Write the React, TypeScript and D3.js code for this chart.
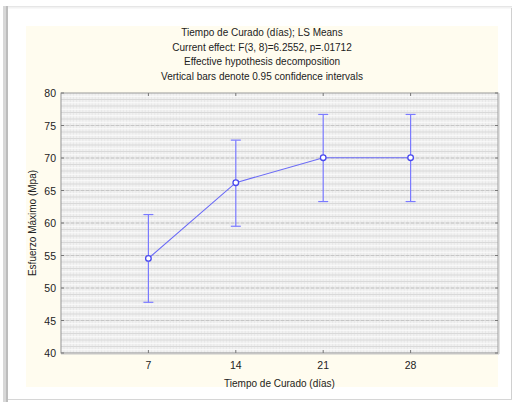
import React from "react";
import * as d3 from "d3";

const days = [7, 14, 21, 28];
const means = [54.55, 66.2, 70.05, 70.05];
const upper = [61.3, 72.75, 76.7, 76.7];
const lower = [47.8, 59.5, 63.3, 63.3];
const yTicks = [40, 45, 50, 55, 60, 65, 70, 75, 80];
const titleLines = [
  "Tiempo de Curado (días); LS Means",
  "Current effect: F(3, 8)=6.2552, p=.01712",
  "Effective hypothesis decomposition",
  "Vertical bars denote 0.95 confidence intervals",
];

const W = 513, H = 402;
const L = 61, R = 498, T = 93, B = 353;

export default function App() {
  const x = d3.scaleLinear().domain([0, 35]).range([L, R]);
  const y = d3.scaleLinear().domain([40, 80]).range([B, T]);
  const line = d3.line<number>().x((_, i) => x(days[i])).y((d) => y(d));
  const hMinor = d3.range(40, 80, 0.5);
  const vMinor = d3.range(0, 35, 0.25);
  const font = "'Liberation Sans', Arial, sans-serif";
  const blue = "#6a6af6";
  return (
    <svg width={W} height={H} style={{ position: "absolute", left: 0, top: 0, display: "block" }} fontFamily={font}>
      <rect x={0} y={0} width={W} height={H} fill="#ffffff" />
      {/* frame */}
      <rect x={3} y={6} width={3} height={396} fill="#d8d8d8" />
      <rect x={6} y={6} width={2} height={396} fill="#bdbdbd" />
      <rect x={8} y={6} width={504} height={1.5} fill="#e6e6e6" />
      <rect x={8} y={7.5} width={504} height={1} fill="#f2f2f2" />
      <line x1={511.5} y1={8} x2={511.5} y2={400} stroke="#d0d0d0" />
      <line x1={8} y1={399.5} x2={512} y2={399.5} stroke="#d6d6d6" />
      {/* cream area */}
      <rect x={26} y={26} width={472} height={361} fill="#fffcef" />
      {/* titles */}
      {titleLines.map((t, i) => (
        <text key={i} x={262} y={36 + i * 14.5} textAnchor="middle" fontSize={10} fill="#222">
          {t}
        </text>
      ))}
      {/* plot bg */}
      <rect x={L} y={T} width={R - L} height={B - T} fill="#f1f1f1" />
      {vMinor.map((v) => (
        <line key={"v" + v} x1={x(v)} x2={x(v)} y1={T} y2={B} stroke="#e6e6e6" strokeWidth={0.8} />
      ))}
      {hMinor.map((v) => (
        <line key={"h" + v} x1={L} x2={R} y1={y(v)} y2={y(v)} stroke={Math.round(v * 2) % 2 === 0 ? "#d9d9d9" : "#fbfbfb"} strokeWidth={1} />
      ))}
      {yTicks.slice(1, -1).map((v) => (
        <line key={"g" + v} x1={L} x2={R} y1={y(v)} y2={y(v)} stroke="#c6c6c6" strokeDasharray="3,2" />
      ))}
      {/* border */}
      <rect x={L} y={T} width={R - L} height={B - T} fill="none" stroke="#9a9a9a" />
      <line x1={L} x2={R + 1} y1={B + 1} y2={B + 1} stroke="#c8c8c8" />
      <line x1={R + 1} x2={R + 1} y1={T} y2={B + 1} stroke="#c8c8c8" />
      {/* ticks */}
      {days.map((d) => (
        <g key={"t" + d}>
          <line x1={x(d)} x2={x(d)} y1={B} y2={B - 3} stroke="#777" />
          <line x1={x(d)} x2={x(d)} y1={T} y2={T + 3} stroke="#777" />
          <text x={x(d)} y={369} textAnchor="middle" fontSize={10.5} fill="#222">{d}</text>
        </g>
      ))}
      {yTicks.map((v) => (
        <g key={"y" + v}>
          <line x1={L} x2={L + 3} y1={y(v)} y2={y(v)} stroke="#777" />
          <line x1={R} x2={R - 3} y1={y(v)} y2={y(v)} stroke="#777" />
          <text x={56} y={y(v) + 4} textAnchor="end" fontSize={10.5} fill="#222">{v}</text>
        </g>
      ))}
      {/* axis labels */}
      <text x={(L + R) / 2} y={387} textAnchor="middle" fontSize={10} fill="#222">Tiempo de Curado (días)</text>
      <text transform={`translate(36,${(T + B) / 2}) rotate(-90)`} textAnchor="middle" fontSize={10} fill="#222">Esfuerzo Máximo (Mpa)</text>
      {/* error bars */}
      {days.map((d, i) => (
        <g key={"e" + d} stroke="#7a7aff" strokeWidth={1.2}>
          <line x1={x(d)} x2={x(d)} y1={y(lower[i])} y2={y(upper[i])} />
          <line x1={x(d) - 5} x2={x(d) + 5} y1={y(lower[i])} y2={y(lower[i])} />
          <line x1={x(d) - 5} x2={x(d) + 5} y1={y(upper[i])} y2={y(upper[i])} />
        </g>
      ))}
      <path d={line(means) || ""} fill="none" stroke={blue} strokeWidth={1.1} />
      {means.map((m, i) => (
        <circle key={"c" + i} cx={x(days[i])} cy={y(m)} r={2.8} fill="#ffffff" stroke="#4848ee" strokeWidth={1.3} />
      ))}
    </svg>
  );
}
